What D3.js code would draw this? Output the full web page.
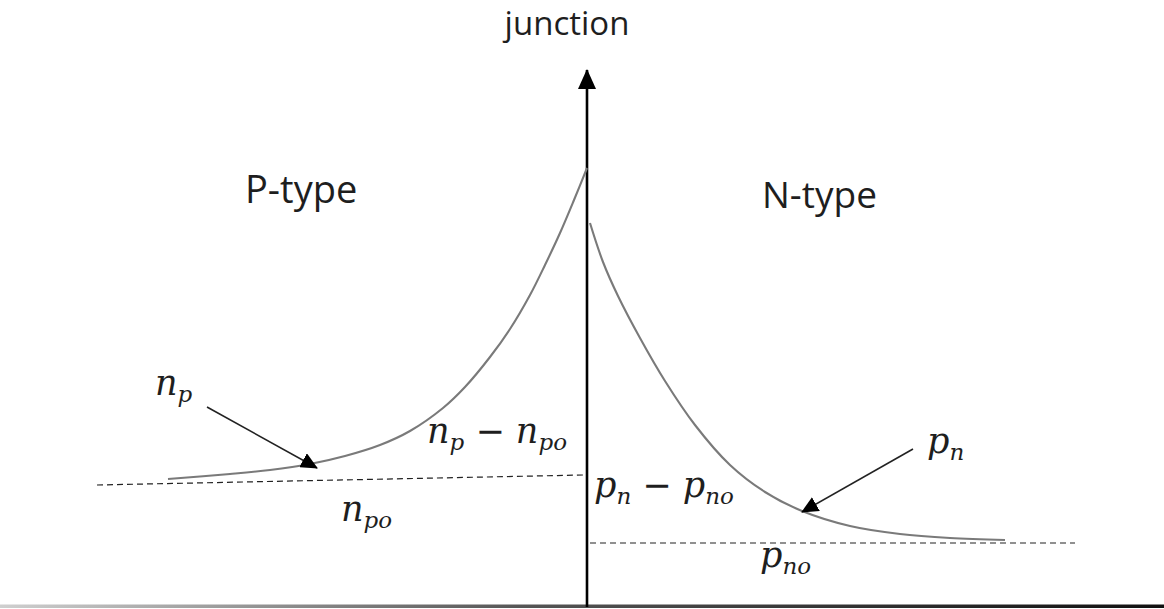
<!DOCTYPE html>
<html>
<head>
<meta charset="utf-8">
<script src="https://cdn.jsdelivr.net/npm/d3@7"></script>
<style>
    body { margin: 0; background: #fff; }
    .region { font-family: "Open Sans", sans-serif; fill: #1e1e1e; }
    .math { font-family: "DejaVu Serif", serif; font-style: italic; fill: #1e1e1e; }
</style>
</head>
<body>
<div id="chart"></div>
<script>

// distance from the junction (x) and carrier concentration (y)
let pSideX = [-4.19, -3.57, -3.17, -2.77, -2.42, -2.07, -1.77, -1.44, -1.22, -0.97, -0.77, -0.57, -0.42, -0.27, -0.13, 0];
let pSideN = [2.54, 2.64, 2.72, 2.84, 3.00, 3.22, 3.50, 3.96, 4.38, 4.98, 5.54, 6.22, 6.82, 7.46, 8.12, 8.76];

let nSideX = [0.03, 0.16, 0.31, 0.53, 0.78, 1.08, 1.43, 1.78, 2.15, 2.63, 3.13, 3.63, 4.18];
let nSideP = [7.66, 6.88, 6.20, 5.36, 4.50, 3.62, 2.82, 2.28, 1.90, 1.60, 1.44, 1.36, 1.32];

// equilibrium levels (dashed)
let npoX = [-4.90, -0.04];
let npoY = [2.42, 2.62];
let pnoX = [0.03, 4.88];
let pnoY = [1.26, 1.26];

// pointer arrows: [start, end] in data units
let npArrow = [[-3.80, 3.98], [-2.70, 2.76]];
let pnArrow = [[3.26, 3.14], [2.15, 1.88]];

let axisTop = 10.72;

let regionLabels = ["junction", "P-type", "N-type"];
// math labels: pieces of [text, kind]  kind: "b" base, "s" subscript, "o" operator
let mathLabels = [
    [["n", "b"], ["p", "s"]],
    [["n", "b"], ["p", "s"], [" − ", "o"], ["n", "b"], ["po", "s"]],
    [["n", "b"], ["po", "s"]],
    [["p", "b"], ["n", "s"], [" − ", "o"], ["p", "b"], ["no", "s"]],
    [["p", "b"], ["n", "s"]],
    [["p", "b"], ["no", "s"]]
];

// --- layout ---
let width = 1164, height = 609;

let svg = d3.select("#chart").append("svg")
    .attr("width", width)
    .attr("height", height);

let x = d3.scaleLinear().domain([-5.87, 5.77]).range([0, width]);
let y = d3.scaleLinear().domain([0, 10]).range([606, 106]);

let defs = svg.append("defs");

// arrow heads
defs.append("marker")
    .attr("id", "head-axis")
    .attr("markerUnits", "userSpaceOnUse")
    .attr("viewBox", "0 -9 20 18")
    .attr("refX", 19).attr("refY", 0)
    .attr("markerWidth", 20).attr("markerHeight", 18)
    .attr("orient", "auto")
    .append("path")
    .attr("d", "M0,-9L20,0L0,9Z")
    .attr("fill", "#000");

defs.append("marker")
    .attr("id", "head-ptr")
    .attr("markerUnits", "userSpaceOnUse")
    .attr("viewBox", "0 -8 17 16")
    .attr("refX", 16).attr("refY", 0)
    .attr("markerWidth", 17).attr("markerHeight", 16)
    .attr("orient", "auto")
    .append("path")
    .attr("d", "M0,-8L17,0L0,8Z")
    .attr("fill", "#000");

// bottom line fades in from the left
let grad = defs.append("linearGradient")
    .attr("id", "base-grad")
    .attr("x1", "0%").attr("x2", "100%");
grad.append("stop").attr("offset", "0%").attr("stop-color", "#cfcfcf");
grad.append("stop").attr("offset", "45%").attr("stop-color", "#555");
grad.append("stop").attr("offset", "100%").attr("stop-color", "#111");

svg.append("rect")
    .attr("x", x(-5.87)).attr("y", y(0) - 1.5)
    .attr("width", x(5.77) - x(-5.87)).attr("height", 3.5)
    .attr("fill", "url(#base-grad)");

// junction axis
svg.append("line")
    .attr("x1", x(0)).attr("x2", x(0))
    .attr("y1", y(-0.02)).attr("y2", y(axisTop))
    .attr("stroke", "#000")
    .attr("stroke-width", 2.6)
    .attr("marker-end", "url(#head-axis)");

// dashed equilibrium levels
let straight = d3.line().x(d => x(d[0])).y(d => y(d[1]));

[[npoX, npoY], [pnoX, pnoY]].forEach(lv => {
    svg.append("path")
        .attr("d", straight(d3.zip(lv[0], lv[1])))
        .attr("fill", "none").attr("stroke", "#222")
        .attr("stroke-width", 1.2).attr("stroke-dasharray", "6,4");
});

// carrier curves
let curve = d3.line()
    .x(d => x(d[0]))
    .y(d => y(d[1]))
    .curve(d3.curveCatmullRom.alpha(0.5));

svg.append("path")
    .attr("d", curve(d3.zip(pSideX, pSideN)))
    .attr("fill", "none").attr("stroke", "#7a7a7a").attr("stroke-width", 2.1);

svg.append("path")
    .attr("d", curve(d3.zip(nSideX, nSideP)))
    .attr("fill", "none").attr("stroke", "#7a7a7a").attr("stroke-width", 2.1);

// pointer arrows
[npArrow, pnArrow].forEach(a => {
    svg.append("line")
        .attr("x1", x(a[0][0])).attr("y1", y(a[0][1]))
        .attr("x2", x(a[1][0])).attr("y2", y(a[1][1]))
        .attr("stroke", "#222").attr("stroke-width", 1.6)
        .attr("marker-end", "url(#head-ptr)");
});

// region labels
let regionPos = [
    {px: 567, py: 35, size: 33, anchor: "middle"},
    {px: 245, py: 203, size: 38, anchor: "start"},
    {px: 762, py: 208, size: 37, anchor: "start"}
];
regionLabels.forEach((t, i) => {
    svg.append("text")
        .attr("class", "region")
        .attr("x", regionPos[i].px).attr("y", regionPos[i].py)
        .attr("text-anchor", regionPos[i].anchor)
        .style("font-size", regionPos[i].size + "px")
        .text(t);
});

// math labels
let mathPos = [[155, 395], [427, 443], [341, 521], [594, 497], [927, 453], [760, 567]];
let baseSize = 35, subSize = 23, subShift = 7;

mathLabels.forEach((parts, i) => {
    let txt = svg.append("text")
        .attr("class", "math")
        .attr("x", mathPos[i][0]).attr("y", mathPos[i][1])
        .style("font-size", baseSize + "px");
    let shifted = false;
    parts.forEach(p => {
        let ts = txt.append("tspan").text(p[0]);
        if (p[1] === "s") {
            ts.style("font-size", subSize + "px").attr("dy", shifted ? 0 : subShift);
            shifted = true;
        } else {
            if (shifted) ts.attr("dy", -subShift);
            shifted = false;
            if (p[1] === "o") ts.style("font-style", "normal");
        }
    });
});

</script>
</body>
</html>
